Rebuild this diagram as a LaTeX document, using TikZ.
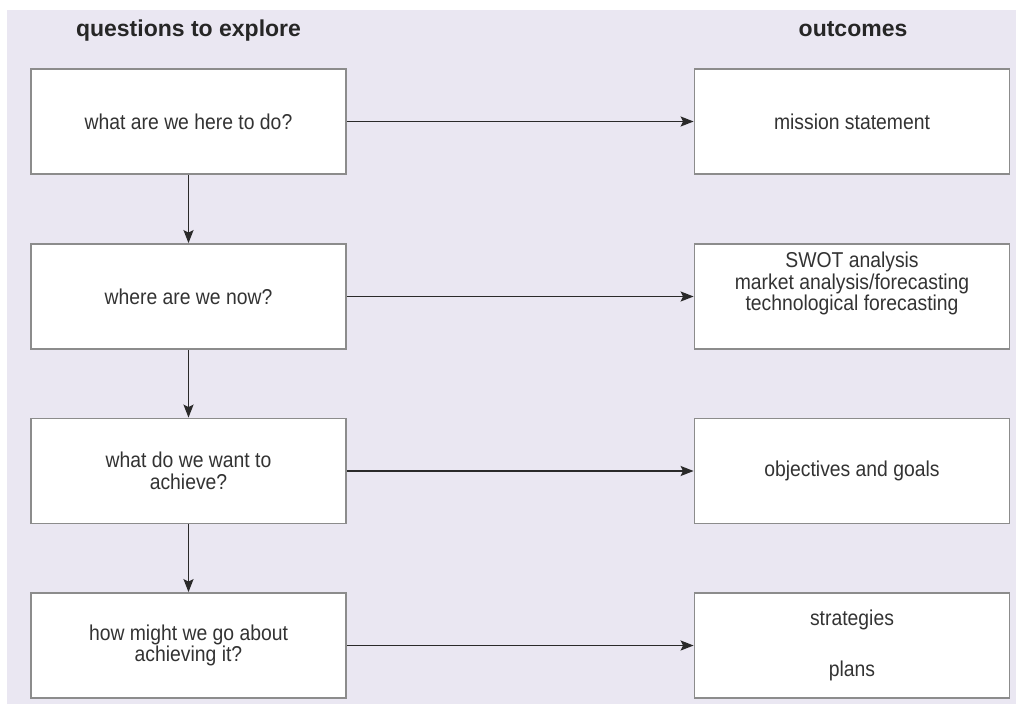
\documentclass[tikz,border=0pt]{standalone}
\usepackage{fontspec}
\setmainfont{Liberation Sans}
\newfontfamily\bodyfont[FakeStretch=0.9]{Liberation Sans}
\usetikzlibrary{arrows.meta}
\definecolor{bg}{HTML}{EAE7F2}
\definecolor{bordergray}{HTML}{8C8C8C}
\definecolor{inkgray}{HTML}{333333}
\definecolor{arrowink}{HTML}{2A2A2A}
\begin{document}
\begin{tikzpicture}[x=1pt,y=-1pt,
  box/.style={draw=bordergray, line width=1.8pt, fill=white,
    minimum width=315pt, minimum height=105pt, inner sep=0pt,
    align=center, font=\bodyfont\fontsize{21.5}{21.5}\selectfont, text=inkgray},
  head/.style={font=\bfseries\fontsize{23}{27}\selectfont, text=black!85, anchor=base},
  link/.style={draw=arrowink, line width=1.8pt,
    -{Stealth[length=13pt,width=10pt,inset=2.5pt]}}]
\useasboundingbox (0,0) rectangle (1016,706);
\fill[white] (0,0) rectangle (1016,706);
\fill[bg] (7,10) rectangle (1016,704);

\node[head] (hq) at (188.5,37) {questions to explore};
\node[head] (ho) at (853,37) {outcomes};

\node[box] (q1) at (188.5,121.5) {what are we here to do?};
\node[box] (q2) at (188.5,296.5) {where are we now?};
\node[box] (q3) at (188.5,471) {what do we want to\\achieve?};
\node[box] (q4) at (188.5,645.5) {how might we go about\\achieving it?};

\node[box] (o1) at (852,121.5) {mission statement};
\node[box, label={[yshift=13pt, align=center, font=\bodyfont\fontsize{21.5}{21.5}\selectfont, text=inkgray]center:SWOT analysis\\market analysis/forecasting\\technological forecasting}] (o2) at (852,296.5) {};
\node[box] (o3) at (852,471) {objectives and goals};
\node[box] (o4) at (852,645.5) {strategies\\[30pt]plans};

\draw[link] (q1.south) -- (q2.north);
\draw[link] (q2.south) -- (q3.north);
\draw[link] (q3.south) -- (q4.north);

\draw[link] (q1.east) -- (o1.west);
\draw[link] (q2.east) -- (o2.west);
\draw[link] (q3.east) -- (o3.west);
\draw[link] (q4.east) -- (o4.west);
\end{tikzpicture}
\end{document}
